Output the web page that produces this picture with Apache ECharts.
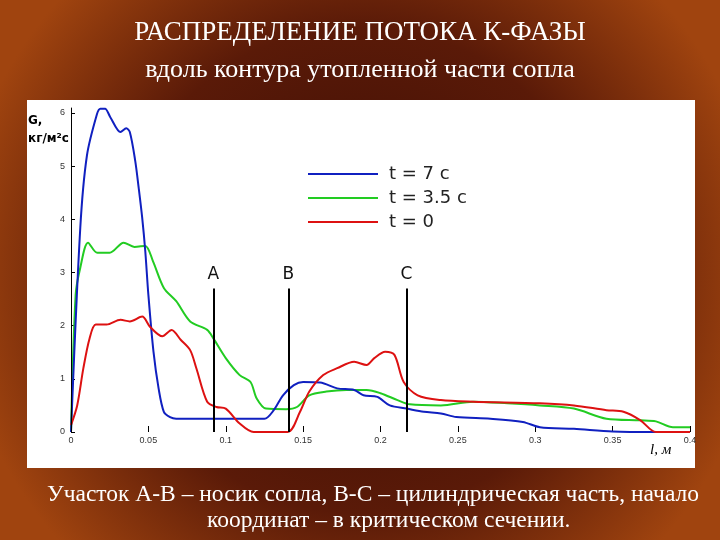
<!DOCTYPE html>
<html><head><meta charset="utf-8">
<script src="https://cdn.jsdelivr.net/npm/echarts@6/dist/echarts.min.js"></script>
<style>html,body{margin:0;padding:0;}#c{width:720px;height:540px;}</style>
</head><body><div id="c"></div>
<script>
const blue = [[0,0],[0.006,3.84],[0.0103,5.2],[0.0168,5.98],[0.019,6.08],[0.022,6.08],[0.0254,5.92],[0.032,5.64],[0.0357,5.71],[0.038,5.64],[0.0415,5.1],[0.0437,4.6],[0.046,4.03],[0.048,3.4],[0.05,2.58],[0.0533,1.51],[0.0566,0.82],[0.06,0.38],[0.064,0.28],[0.068,0.25],[0.125,0.25],[0.131,0.41],[0.137,0.69],[0.144,0.88],[0.15,0.94],[0.161,0.93],[0.172,0.82],[0.183,0.79],[0.189,0.69],[0.198,0.66],[0.206,0.5],[0.217,0.44],[0.228,0.38],[0.239,0.35],[0.249,0.28],[0.271,0.25],[0.292,0.19],[0.303,0.09],[0.325,0.06],[0.35,0.01],[0.378,0]];
const green = [[0,0],[0.003,2.58],[0.006,3.09],[0.011,3.56],[0.017,3.37],[0.025,3.37],[0.034,3.56],[0.041,3.48],[0.048,3.5],[0.053,3.21],[0.06,2.71],[0.068,2.46],[0.077,2.08],[0.088,1.92],[0.092,1.76],[0.1,1.39],[0.109,1.07],[0.116,0.94],[0.12,0.63],[0.126,0.44],[0.139,0.43],[0.146,0.47],[0.154,0.69],[0.165,0.76],[0.178,0.79],[0.191,0.79],[0.2,0.73],[0.211,0.6],[0.219,0.52],[0.239,0.5],[0.26,0.57],[0.282,0.54],[0.303,0.5],[0.325,0.44],[0.346,0.25],[0.368,0.22],[0.378,0.2],[0.389,0.09],[0.4,0.09]];
const red = [[0,0.13],[0.004,0.5],[0.008,1.2],[0.012,1.76],[0.016,2.02],[0.023,2.02],[0.032,2.11],[0.038,2.08],[0.046,2.17],[0.051,1.98],[0.059,1.8],[0.065,1.92],[0.071,1.73],[0.077,1.54],[0.081,1.2],[0.088,0.57],[0.094,0.47],[0.1,0.44],[0.109,0.16],[0.118,0],[0.14,0],[0.148,0.38],[0.154,0.76],[0.163,1.07],[0.172,1.2],[0.183,1.32],[0.191,1.26],[0.196,1.39],[0.203,1.51],[0.209,1.45],[0.215,0.94],[0.224,0.69],[0.239,0.6],[0.26,0.57],[0.303,0.54],[0.325,0.5],[0.346,0.41],[0.357,0.38],[0.368,0.22],[0.378,0],[0.4,0]];
const markers = [["A",0.092],["B",0.1404],["C",0.2168]];
const markerTop = 2.7;
const names = ["t = 7 с","t = 3.5 с","t = 0"];

const chart = echarts.init(document.getElementById('c'));
chart.setOption({
  backgroundColor: {type:'radial',x:0.5,y:0.5,r:0.75,colorStops:[{offset:0,color:'#3a0c04'},{offset:0.6,color:'#5a1a08'},{offset:1,color:'#a0440f'}]},
  graphic: [
    {type:'rect',shape:{x:27,y:100,width:668,height:368},style:{fill:'#fff'},z:-10},
    {type:'text',left:'center',top:19,style:{text:'РАСПРЕДЕЛЕНИЕ ПОТОКА К-ФАЗЫ',fill:'#fff',font:'27px "Liberation Serif"'}},
    {type:'text',left:'center',top:57,style:{text:'вдоль контура утопленной части сопла',fill:'#fff',font:'26px "Liberation Serif"'}},
    {type:'text',left:47,top:483,style:{text:'Участок А-В – носик сопла, В-С – цилиндрическая часть, начало',fill:'#fff',font:'23.5px "Liberation Serif"'}},
    {type:'text',left:207,top:509,style:{text:'координат – в критическом сечении.',fill:'#fff',font:'23.5px "Liberation Serif"'}},
    {type:'text',left:28,top:112,style:{text:'G,\nкг/м²с',fill:'#000',font:'bold 12px "DejaVu Sans"',lineHeight:18}},
    {type:'text',left:650,top:443,style:{text:'l, м',fill:'#000',font:'italic 15px "Liberation Serif"'}}
  ],
  legend:{orient:'vertical',left:303,top:160,itemWidth:70,itemHeight:20,itemGap:6,icon:'path://M0,9h70v2h-70z',
    textStyle:{fontSize:18,fontFamily:'DejaVu Sans',color:'#222',padding:[0,0,0,6]},data:names},
  grid:{left:71,right:30,top:97,bottom:108},
  xAxis:{type:'value',min:0,max:0.4,interval:0.05,
    axisLine:{show:false},axisTick:{show:true,inside:true,length:6,lineStyle:{color:'#000'}},
    splitLine:{show:false},
    axisLabel:{fontSize:9,color:'#333',margin:4,formatter:v=>String(+v.toFixed(2))}},
  yAxis:{type:'value',min:0,max:6.3,interval:1,
    axisLine:{show:false},axisTick:{show:true,inside:true,length:4,lineStyle:{color:'#000'}},
    splitLine:{show:false},axisLabel:{fontSize:9,color:'#333',margin:6,showMaxLabel:false}},
  series:[
    {name:names[0],type:'line',data:blue,smooth:0.3,symbol:'none',lineStyle:{color:'#1020c0',width:2},itemStyle:{color:'#1020c0'},z:3},
    {name:names[1],type:'line',data:green,smooth:0.3,symbol:'none',lineStyle:{color:'#22cc22',width:2},itemStyle:{color:'#22cc22'},z:2},
    {name:names[2],type:'line',data:red,smooth:0.3,symbol:'none',lineStyle:{color:'#dd1111',width:2},itemStyle:{color:'#dd1111'},z:4},
    {type:'line',data:[],symbol:'none',
     markLine:{silent:true,symbol:'none',animation:false,
       data:[[{coord:[0,0],lineStyle:{width:1}},{coord:[0,6.1]}]].concat(markers.map(m=>[{coord:[m[1],0]},{coord:[m[1],markerTop],label:{show:true,formatter:m[0],position:'end',fontSize:17,color:'#111',fontFamily:'DejaVu Sans'}}])),
       lineStyle:{color:'#000',width:2,type:'solid'}}}
  ]
});
</script></body></html>
